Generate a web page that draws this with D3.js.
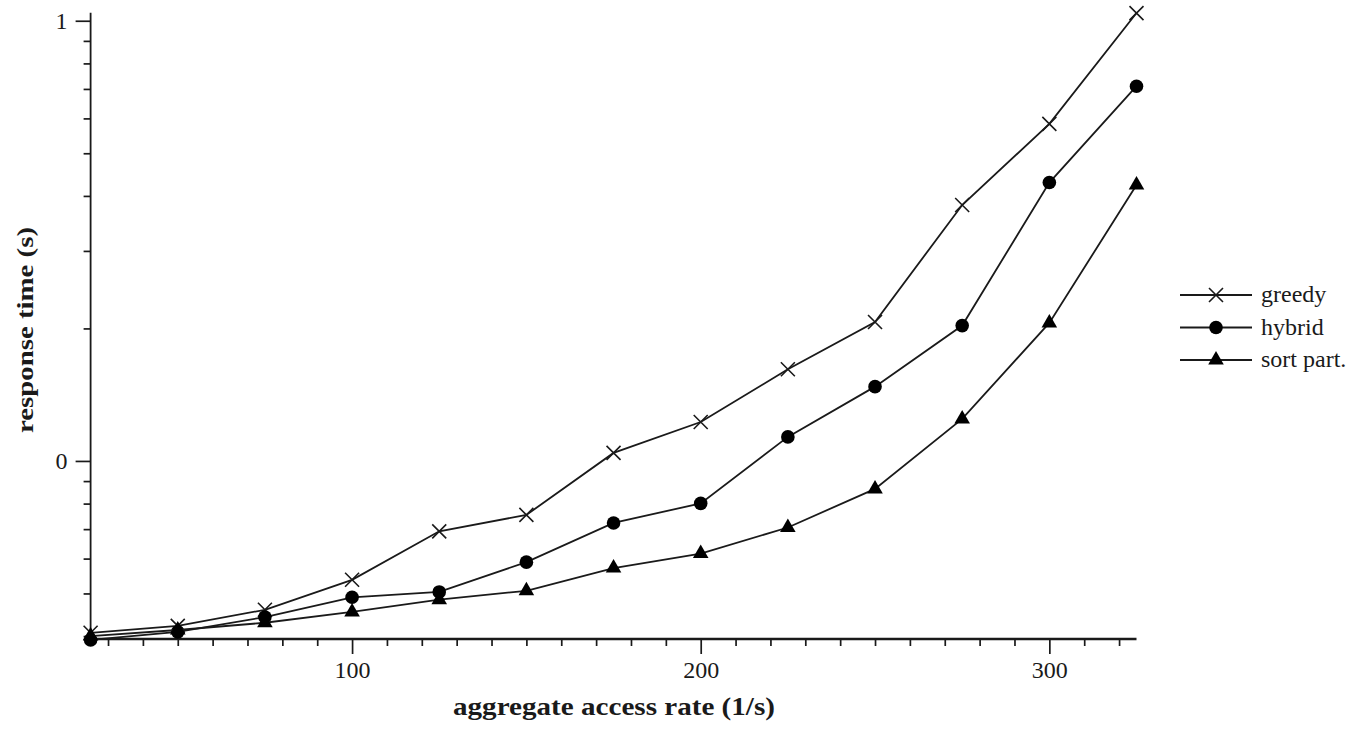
<!DOCTYPE html>
<html>
<head>
<meta charset="utf-8">
<script src="https://cdn.jsdelivr.net/npm/d3@7"></script>
<style>
  body { margin: 0; background: #fff; }
  svg { display: block; }
</style>
</head>
<body>
<div id="chart"></div>
<script>
// Data
const rates = [25, 50, 75, 100, 125, 150, 175, 200, 225, 250, 275, 300, 325];
const greedy = [0.407, 0.422, 0.459, 0.537, 0.692, 0.754, 1.043, 1.226, 1.615, 2.069, 3.814, 5.83, 10.41];
const hybrid = [0.392, 0.409, 0.442, 0.490, 0.504, 0.589, 0.723, 0.801, 1.134, 1.475, 2.030, 4.29, 7.10];
const sortPart = [0.400, 0.413, 0.429, 0.454, 0.484, 0.507, 0.571, 0.616, 0.706, 0.864, 1.246, 2.058, 4.235];
const seriesNames = ["greedy", "hybrid", "sort part."];
const xMajorTicks = [100, 200, 300];
const yMajorTicks = [1, 10];

const W = 1369, H = 729;
const FONT = '"Liberation Serif", "Times New Roman", serif';
const ink = "#1a1a1a";

const svg = d3.select("#chart").append("svg")
    .attr("width", W)
    .attr("height", H)
    .style("font-family", FONT);

// Scales
const x = d3.scaleLinear().domain([25, 325]).range([90.6, 1136.5]);
const y = d3.scaleLog().domain([0.394, 10.43]).range([639, 12.7]);

const tickFont = g => g
    .attr("font-family", null)
    .selectAll("text")
    .attr("fill", ink)
    .style("font-size", "24px")
    .style("font-family", FONT);

// X axis (minor every 10, major every 100)
const xMinor = d3.range(30, 330, 10).filter(v => v % 100 !== 0);
const xAxisG = svg.append("g").attr("transform", `translate(0, ${y.range()[0]})`);
xAxisG.append("line")
    .attr("x1", x.range()[0]).attr("x2", x.range()[1])
    .attr("stroke", ink).attr("stroke-width", 2.4);
xAxisG.call(d3.axisBottom(x).tickValues(xMinor).tickSize(7).tickFormat(""))
    .call(g => g.select(".domain").remove());
xAxisG.append("g")
    .call(d3.axisBottom(x).tickValues(xMajorTicks).tickSize(15).tickPadding(7).tickFormat(d3.format("d")))
    .call(g => g.select(".domain").remove())
    .call(tickFont);
xAxisG.selectAll(".tick line").attr("stroke", ink).attr("stroke-width", 1.7);

// Y axis (log, labelled with the exponent)
const yMinor = [0.4, 0.5, 0.6, 0.7, 0.8, 0.9, 2, 3, 4, 5, 6, 7, 8, 9];
const yAxisG = svg.append("g").attr("transform", `translate(${x.range()[0]}, 0)`);
yAxisG.append("line")
    .attr("y1", y.range()[0]).attr("y2", y.range()[1])
    .attr("stroke", ink).attr("stroke-width", 1.8);
yAxisG.call(d3.axisLeft(y).tickValues(yMinor).tickSize(7).tickFormat(""))
    .call(g => g.select(".domain").remove());
yAxisG.append("g")
    .call(d3.axisLeft(y).tickValues(yMajorTicks).tickSize(15).tickPadding(8).tickFormat(d => Math.round(Math.log10(d))))
    .call(g => g.select(".domain").remove())
    .call(tickFont);
yAxisG.selectAll(".tick line").attr("stroke", ink).attr("stroke-width", 1.7);

// Axis titles
svg.append("text")
    .attr("x", 453).attr("y", 715)
    .attr("fill", ink)
    .attr("textLength", 322).attr("lengthAdjust", "spacingAndGlyphs")
    .style("font-family", FONT)
    .style("font-size", "25px").style("font-weight", "bold")
    .text("aggregate access rate (1/s)");

svg.append("text")
    .attr("transform", "translate(33, 433) rotate(-90)")
    .attr("fill", ink)
    .attr("textLength", 206).attr("lengthAdjust", "spacingAndGlyphs")
    .style("font-family", FONT)
    .style("font-size", "24px").style("font-weight", "bold")
    .text("response time (s)");

// Markers
function drawMarker(g, kind) {
    if (kind === 0) {
        const s = 7;
        g.append("path")
            .attr("d", `M${-s},${-s}L${s},${s}M${-s},${s}L${s},${-s}`)
            .attr("stroke", ink).attr("stroke-width", 1.6).attr("fill", "none");
    } else if (kind === 1) {
        g.append("circle").attr("r", 6.8).attr("fill", "#000");
    } else {
        g.append("path")
            .attr("d", d3.symbol().type(d3.symbolTriangle).size(105)())
            .attr("fill", "#000");
    }
}

const allSeries = [greedy, hybrid, sortPart];
const line = d3.line().x(d => x(d[0])).y(d => y(d[1]));

allSeries.forEach((vals, k) => {
    const pts = rates.map((r, i) => [r, vals[i]]);
    svg.append("path")
        .datum(pts)
        .attr("d", line)
        .attr("fill", "none")
        .attr("stroke", ink)
        .attr("stroke-width", 1.8);
    svg.append("g").selectAll("g")
        .data(pts)
        .join("g")
        .attr("transform", d => `translate(${x(d[0])}, ${y(d[1])})`)
        .each(function () { drawMarker(d3.select(this), k); });
});

// Legend
const legend = svg.append("g").attr("transform", "translate(1180, 295)");
seriesNames.forEach((name, k) => {
    const row = legend.append("g").attr("transform", `translate(0, ${k * 32.5})`);
    row.append("line").attr("x1", 0).attr("x2", 72)
        .attr("stroke", ink).attr("stroke-width", 1.8);
    drawMarker(row.append("g").attr("transform", "translate(36, 0)"), k);
    row.append("text")
        .attr("x", 81).attr("y", 7)
        .attr("fill", ink)
        .style("font-family", FONT)
        .style("font-size", "24px")
        .text(name);
});
</script>
</body>
</html>
